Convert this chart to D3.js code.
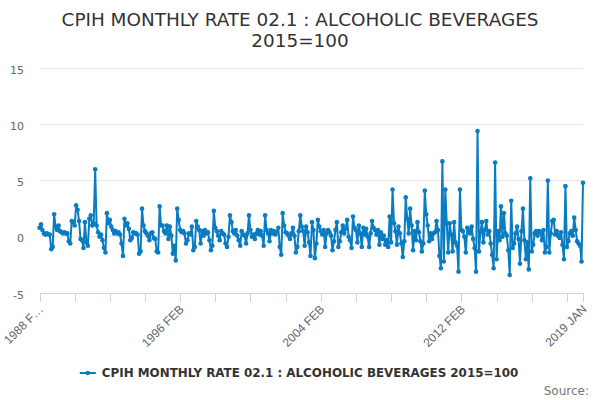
<!DOCTYPE html>
<html>
<head>
<meta charset="UTF-8"/>
<script src="https://d3js.org/d3.v7.min.js"></script>
<title>CPIH monthly rate 02.1</title>
<style>
body { margin: 0; background: #fff; }
svg { font-family: "DejaVu Sans", sans-serif; }
.grid line { stroke: #e6e6e6; shape-rendering: crispEdges; }
.xaxis path, .xaxis line { stroke: #ccd6eb; shape-rendering: crispEdges; }
.xaxis text { fill: #666; font-size: 12px; }
.yaxis text { fill: #666; font-size: 11px; }
</style>
</head>
<body>
<svg id="chart" width="600" height="400"></svg>
<script>
'use strict';

var monthNames = ['JAN','FEB','MAR','APR','MAY','JUN','JUL','AUG','SEP','OCT','NOV','DEC'];
var startYear = 1988;
var startMonth = 1; // FEB

// monthly rate, % (one line = FEB..JAN)
var rates = [
	 0.8, 1.1, 0.6, 0.3, 0.2, 0.3, 0.2, 0.2,-1.1,-0.9, 2.0, 0.9,  // 1988
	 0.6, 1.0, 0.5, 0.4, 0.3, 0.4, 0.3, 0.3,-0.4,-0.6, 1.4, 1.3,  // 1989
	 1.0, 2.8, 2.4, 1.4,-0.2,-0.3,-1.0, 1.3,-0.5,-0.8, 1.6, 1.9,  // 1990
	 1.0, 1.2, 6.0, 1.0, 0.4, 0.0, 0.2,-0.3,-1.0,-1.4, 2.1, 1.2,  // 1991
	 1.5, 0.9, 0.6, 0.3, 0.5, 0.3, 0.4, 0.2,-0.6,-1.7, 1.6, 1.0,  // 1992
	 1.2, 0.7,-0.3,-0.1, 0.4, 0.3, 0.3, 0.2,-1.5,-1.3, 2.5, 1.0,  // 1993
	 0.5, 0.3, 0.1,-0.3, 0.3, 0.4,-0.1,-0.2,-1.3,-1.4, 2.7, 1.0,  // 1994
	 1.0, 0.5, 0.3, 1.0,-0.2, 0.9, 0.1,-1.5,-0.8,-2.1, 2.5, 1.5,  // 1995
	 0.6, 0.4, 0.5, 0.3,-0.6,-0.3, 0.3, 0.2, 0.9,-1.2,-0.9, 1.4,  // 1996
	 0.9, 0.6,-0.6, 0.5, 0.1, 0.6, 0.3, 0.4,-0.3,-1.2,-0.8, 2.3,  // 1997
	 0.8, 0.5, 0.1,-0.3, 0.5, 0.3, 0.2,-0.6,-0.9, 0.0, 1.9, 1.3,  // 1998
	 0.5, 0.3, 0.6, 0.1,-0.3,-0.8, 0.5, 0.2, 0.1,-0.6, 0.3, 1.9,  // 1999
	 0.6, 0.0, 0.2,-0.2, 0.3, 0.6, 0.2, 0.5, 0.1,-0.8, 1.9, 0.6,  // 2000
	 0.3,-0.4, 0.6, 0.3, 0.5, 0.2, 0.4, 0.8,-0.9,-1.6, 2.1, 1.0,  // 2001
	 0.4, 0.3, 0.1,-0.2, 0.3, 0.8, 0.1,-1.4,-0.9, 0.5, 1.9, 0.9,  // 2002
	 0.5,-0.8, 0.9, 0.4,-0.5,-1.7, 1.3, 0.6,-1.9,-0.6, 1.5, 0.9,  // 2003
	 0.5, 0.2, 0.6,-0.9, 0.3, 0.6, 0.4, 0.1,-1.2,-0.4, 0.6, 1.3,  // 2004
	-0.9,-0.4, 0.4, 1.0, 0.3, 0.7, 1.5, 0.0,-0.3,-1.0, 1.8, 0.8,  // 2005
	 0.6,-0.5, 1.0, 0.3,-0.9, 0.8, 0.2, 0.7, 0.0,-0.9, 0.3, 1.4,  // 2006
	 0.8, 0.6, 0.2, 0.6,-0.7, 0.4,-0.2, 0.1,-0.7,-0.3,-0.9, 1.8,  // 2007
	-0.5, 4.2, 1.2, 0.5,-0.7, 0.9, 0.3,-0.6,-1.8,-0.4, 3.5, 1.6,  // 2008
	 0.3, 2.5, 1.0,-1.2, 0.5,-0.3, 1.3, 0.4,-0.4,-1.3,-0.6, 4.1,  // 2009
	 2.0, 1.0,-0.4, 0.3,-0.2, 0.3, 0.4, 1.4, 0.6,-1.7,-2.8, 6.7,  // 2010
	-2.2, 4.2, 1.2,-1.4, 1.2, 0.2,-1.3, 1.3,-0.5,-0.8,-3.1, 4.2,  // 2011
	 0.6, 0.5, 0.0,-1.4, 0.8, 0.6, 0.3, 0.9,-0.2,-1.0,-3.1, 9.4,  // 2012
	-1.3, 0.4, 1.3,-0.5, 0.6, 1.4, 0.2, 0.5,-0.6,-1.6,-2.8, 6.6,  // 2013
	-2.0, 0.5,-0.3, 2.7, 0.0, 2.1, 0.3, 0.1,-1.2,-3.4, 3.2,-1.0,  // 2014
	-0.6, 0.3, 0.9,-0.2,-2.4, 0.5, 2.5,-0.3,-2.0,-0.5,-2.9, 5.2,  // 2015
	-1.3,-0.7, 0.3, 0.5, 0.1, 0.5, 0.4,-0.3, 0.6,-1.4,-0.9, 5.0,  // 2016
	-1.4, 0.3, 1.4, 1.5, 0.2, 0.5, 0.1,-0.1, 0.4,-0.7,-2.0, 4.5,  // 2017
	-0.9,-0.4, 0.3, 0.5, 0.1, 1.7, 0.6,-0.4,-0.6,-0.8,-2.2, 4.8   // 2018
];

var categories = rates.map(function(d, i){
	var m = startMonth + i;
	return (startYear + Math.floor(m / 12)) + ' ' + monthNames[m % 12];
});

var yTicks = [-5, 0, 5, 10, 15];
var labelledCats = ['1988 FEB', '1996 FEB', '2004 FEB', '2012 FEB', '2019 JAN'];
var tickLabels   = ['1988 F\u2026', '1996 FEB', '2004 FEB', '2012 FEB', '2019 JAN'];

var titleLines = ['CPIH MONTHLY RATE 02.1 : ALCOHOLIC BEVERAGES', '2015=100'];
var seriesName = 'CPIH MONTHLY RATE 02.1 : ALCOHOLIC BEVERAGES 2015=100';
var color = '#0a7cc1';

var svg = d3.select('#chart');
var plotLeft = 39.5, plotRight = 583, plotTop = 68, plotBottom = 293;

var x = d3.scalePoint().domain(categories).range([plotLeft, plotRight]);
var y = d3.scaleLinear().domain([-5, 15]).range([plotBottom, plotTop]);

// title
svg.selectAll('.title')
.data(titleLines)
.enter()
.append('text')
.attr('class', 'title')
.attr('x', 300)
.attr('y', function(d, i){ return 26 + i * 21; })
.attr('text-anchor', 'middle')
.attr('fill', '#333')
.style('font-size', '18.4px')
.text(function(d){ return d; });

// grid
svg.append('g')
.attr('class', 'grid')
.selectAll('line')
.data(yTicks)
.enter()
.append('line')
.attr('x1', plotLeft)
.attr('x2', plotRight)
.attr('y1', function(d){ return y(d); })
.attr('y2', function(d){ return y(d); });

// y labels
svg.append('g')
.attr('class', 'yaxis')
.selectAll('text')
.data(yTicks)
.enter()
.append('text')
.attr('x', 24)
.attr('y', function(d){ return y(d); })
.attr('dy', '0.5em')
.attr('text-anchor', 'end')
.text(function(d){ return d; });

// x axis
var tickCats = categories.filter(function(d, i){
	return i % 24 === 0 || i === categories.length - 1;
});

var xAxis = d3.axisBottom(x)
.tickValues(tickCats)
.tickSize(9)
.tickSizeOuter(0)
.tickFormat(function(d){
	var k = labelledCats.indexOf(d);
	return k < 0 ? '' : tickLabels[k];
});

var gx = svg.append('g')
.attr('class', 'xaxis')
.attr('transform', 'translate(0,' + plotBottom + ')')
.call(xAxis);

gx.select('.domain').attr('d', 'M' + plotLeft + ',0.5H' + plotRight);

gx.selectAll('text')
.attr('x', 0)
.attr('y', 0)
.attr('dy', '0.35em')
.attr('text-anchor', 'end')
.attr('transform', 'translate(1,14) rotate(-45)');

// series
var line = d3.line()
.x(function(d, i){ return x(categories[i]); })
.y(function(d){ return y(d); });

svg.append('path')
.datum(rates)
.attr('d', line)
.attr('fill', 'none')
.attr('stroke', color)
.attr('stroke-width', 2)
.attr('stroke-linejoin', 'round');

svg.append('g')
.selectAll('circle')
.data(rates)
.enter()
.append('circle')
.attr('cx', function(d, i){ return x(categories[i]); })
.attr('cy', function(d){ return y(d); })
.attr('r', 2.3)
.attr('fill', color);

// legend
var legend = svg.append('g');
var ltext = legend.append('text')
.attr('x', 22)
.attr('y', 0)
.attr('dy', '0.35em')
.attr('fill', '#333')
.style('font-size', '11.9px')
.style('font-weight', 'bold')
.text(seriesName);
legend.append('line')
.attr('x1', 0).attr('x2', 16)
.attr('y1', 0).attr('y2', 0)
.attr('stroke', color)
.attr('stroke-width', 2);
legend.append('circle')
.attr('cx', 8).attr('cy', 0).attr('r', 2.3)
.attr('fill', color);
var lw = 22 + ltext.node().getComputedTextLength();
legend.attr('transform', 'translate(' + (299 - lw / 2) + ',373)');

// credit
svg.append('text')
.attr('x', 589)
.attr('y', 395)
.attr('text-anchor', 'end')
.attr('fill', '#777')
.style('font-size', '12px')
.text('Source:');
</script>
</body>
</html>
